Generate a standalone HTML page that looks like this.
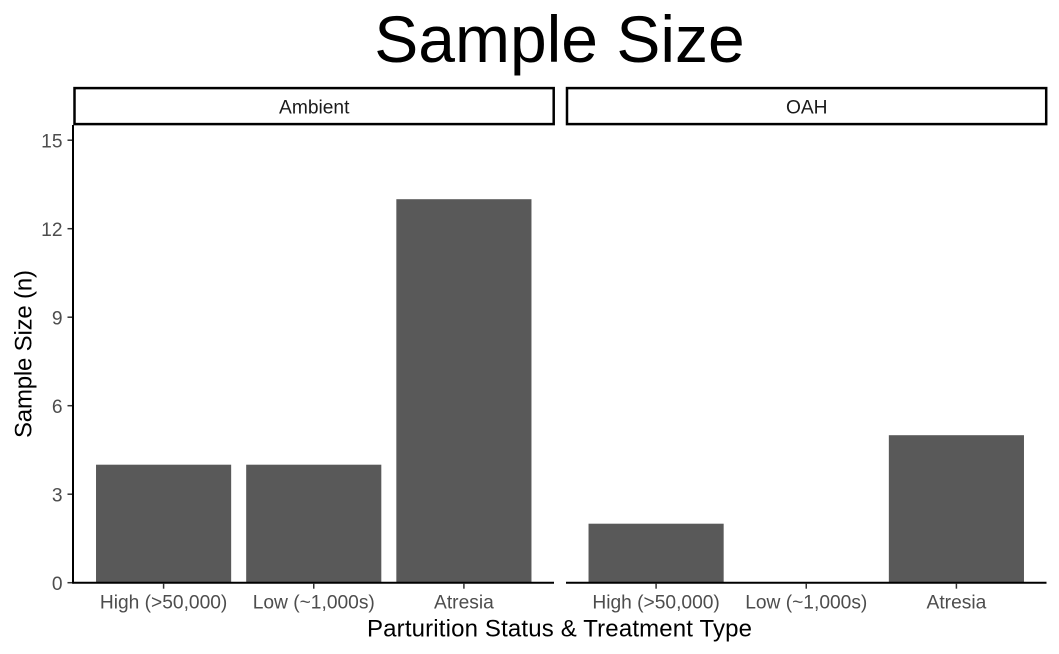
<!DOCTYPE html>
<html>
<head>
<meta charset="utf-8">
<style>
html,body{margin:0;padding:0;background:#fff}
svg{display:block;font-family:"Liberation Sans",Arial,sans-serif}
</style>
</head>
<body>
<svg id="chart" xmlns="http://www.w3.org/2000/svg" width="1059" height="654" viewBox="0 0 1059 654"></svg>
<script>
const panels = ['Ambient', 'OAH'];
const categories = ['High (>50,000)', 'Low (~1,000s)', 'Atresia'];
const ambientValues = [4, 4, 13];
const oahValues = [2, 0, 5];
const yTicks = [0, 3, 6, 9, 12, 15];
const titleText = 'Sample Size';
const xTitleText = 'Parturition Status & Treatment Type';
const yTitleText = 'Sample Size (n)';

const svg = document.getElementById('chart');
const NS = 'http://www.w3.org/2000/svg';
function make(tag, attrs, text) {
  const el = document.createElementNS(NS, tag);
  for (const k in attrs) el.setAttribute(k, attrs[k]);
  if (text !== undefined) el.textContent = text;
  svg.appendChild(el);
  return el;
}
const panelLeft = [73.5, 566];
const panelW = 480.5;
const yBase = 582.7;
const yUnit = 29.5;
function yScale(v) { return yBase - v * yUnit; }
function xScale(p, i) { return panelLeft[p] + panelW * (i + 1 + 0.6 - 1) / (categories.length - 1 + 1.2); }
const bandW = panelW / (categories.length - 1 + 1.2);

let el;
el = make('text', {x: 559.5, y: 62, 'text-anchor': 'middle', 'font-size': 66, fill: '#000'}, titleText);



const seriesByPanel = [ambientValues, oahValues];
panels.forEach(function (name, p) {
  const left = panelLeft[p];
  el = make('rect', {x: left + 1, y: 88.1, width: panelW - 1.3, height: 36, fill: '#fff', stroke: '#000', 'stroke-width': 2.5});
  
  
  el = make('text', {x: left + panelW / 2 + 0.5, y: 113.4, 'text-anchor': 'middle', 'font-size': 19.2, fill: '#1a1a1a'}, name);
  
  

  seriesByPanel[p].forEach(function (v, i) {
    const cx = xScale(p, i);
    const w = bandW * 0.9;
    el = make('rect', {x: cx - w / 2, y: yScale(v), width: w, height: yScale(0) - yScale(v), fill: '#595959'});
    
    
  });

  el = make('line', {x1: left, x2: left + panelW, y1: yBase, y2: yBase, stroke: '#000', 'stroke-width': 2});
  
  

  categories.forEach(function (c, i) {
    const cx = xScale(p, i);
    el = make('line', {x1: cx, x2: cx, y1: yBase + 1, y2: yBase + 6, stroke: '#333', 'stroke-width': 1.5});
    
    
    el = make('text', {x: cx, y: 608.5, 'text-anchor': 'middle', 'font-size': 19.2, fill: '#4d4d4d'}, c);
    
    
  });
});

el = make('line', {x1: 73, x2: 73, y1: 125, y2: yBase + 1, stroke: '#000', 'stroke-width': 2});



yTicks.forEach(function (t) {
  const y = yScale(t);
  el = make('line', {x1: 67.5, x2: 72, y1: y, y2: y, stroke: '#333', 'stroke-width': 1.5});
  
  
  el = make('text', {x: 62.5, y: y + 7.5, 'text-anchor': 'end', 'font-size': 19.2, fill: '#4d4d4d'}, String(t));
  
  
});

el = make('text', {x: 559.5, y: 636.7, 'text-anchor': 'middle', 'font-size': 24, textLength: 385, lengthAdjust: 'spacing', fill: '#000'}, xTitleText);


el = make('text', {x: 0, y: 0, transform: 'translate(31.5,354) rotate(-90)', 'text-anchor': 'middle', 'font-size': 24, textLength: 168, lengthAdjust: 'spacing', fill: '#000'}, yTitleText);


</script>
</body>
</html>
